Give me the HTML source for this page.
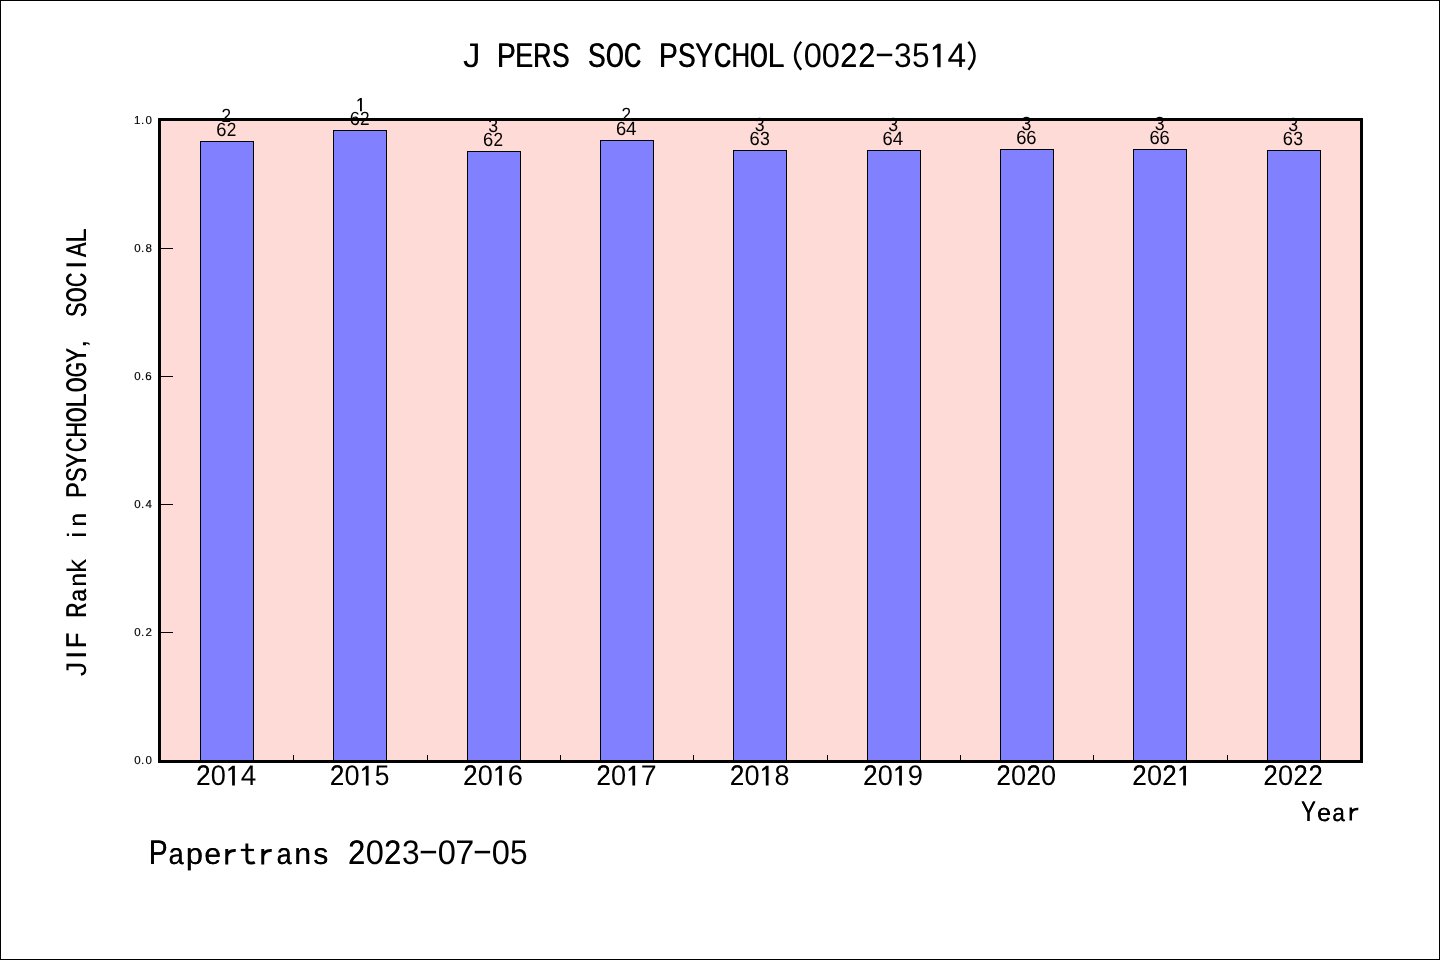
<!DOCTYPE html>
<html><head><meta charset="utf-8"><title>J PERS SOC PSYCHOL</title>
<style>
html,body{margin:0;padding:0;background:#fff;}
body{width:1440px;height:960px;overflow:hidden;font-family:"Liberation Sans",sans-serif;}
svg{display:block;will-change:transform;}
svg text{font-family:"Liberation Sans",sans-serif;fill:#000;text-rendering:geometricPrecision;}
</style></head><body>
<svg width="1440" height="960" viewBox="0 0 1440 960">
<rect x="0" y="0" width="1440" height="960" fill="#fff"/>
<rect x="0.5" y="0.5" width="1439" height="959" fill="none" stroke="#000" stroke-width="1"/>
<rect x="158" y="118" width="1205" height="645" fill="#FEDBD7"/>
<rect x="200.5" y="141.5" width="53" height="619" fill="#8180FF" stroke="#000" stroke-width="1"/>
<rect x="333.5" y="130.5" width="53" height="630" fill="#8180FF" stroke="#000" stroke-width="1"/>
<rect x="467.5" y="151.5" width="53" height="609" fill="#8180FF" stroke="#000" stroke-width="1"/>
<rect x="600.5" y="140.5" width="53" height="620" fill="#8180FF" stroke="#000" stroke-width="1"/>
<rect x="733.5" y="150.5" width="53" height="610" fill="#8180FF" stroke="#000" stroke-width="1"/>
<rect x="867.5" y="150.5" width="53" height="610" fill="#8180FF" stroke="#000" stroke-width="1"/>
<rect x="1000.5" y="149.5" width="53" height="611" fill="#8180FF" stroke="#000" stroke-width="1"/>
<rect x="1133.5" y="149.5" width="53" height="611" fill="#8180FF" stroke="#000" stroke-width="1"/>
<rect x="1267.5" y="150.5" width="53" height="610" fill="#8180FF" stroke="#000" stroke-width="1"/>
<rect x="293" y="755" width="1" height="5"/>
<rect x="427" y="755" width="1" height="5"/>
<rect x="560" y="755" width="1" height="5"/>
<rect x="693" y="755" width="1" height="5"/>
<rect x="827" y="755" width="1" height="5"/>
<rect x="960" y="755" width="1" height="5"/>
<rect x="1093" y="755" width="1" height="5"/>
<rect x="1227" y="755" width="1" height="5"/>
<rect x="161" y="632" width="12" height="1"/>
<rect x="161" y="504" width="12" height="1"/>
<rect x="161" y="376" width="12" height="1"/>
<rect x="161" y="248" width="12" height="1"/>
<rect x="159.5" y="119.5" width="1202" height="642" fill="none" stroke="#000" stroke-width="3"/>
<g aria-label="0.0"><text x="134.20" y="764.10" font-size="11.5" stroke="#000" stroke-width=".15">0</text><text x="141.00" y="764.10" font-size="11.5" stroke="#000" stroke-width=".15">.</text><text x="145.40" y="764.10" font-size="11.5" stroke="#000" stroke-width=".15">0</text></g>
<g aria-label="0.2"><text x="134.20" y="636.10" font-size="11.5" stroke="#000" stroke-width=".15">0</text><text x="141.00" y="636.10" font-size="11.5" stroke="#000" stroke-width=".15">.</text><text x="145.40" y="636.10" font-size="11.5" stroke="#000" stroke-width=".15">2</text></g>
<g aria-label="0.4"><text x="134.20" y="508.10" font-size="11.5" stroke="#000" stroke-width=".15">0</text><text x="141.00" y="508.10" font-size="11.5" stroke="#000" stroke-width=".15">.</text><text x="145.44" y="508.10" font-size="11.5" stroke="#000" stroke-width=".15">4</text></g>
<g aria-label="0.6"><text x="134.20" y="380.10" font-size="11.5" stroke="#000" stroke-width=".15">0</text><text x="141.00" y="380.10" font-size="11.5" stroke="#000" stroke-width=".15">.</text><text x="145.36" y="380.10" font-size="11.5" stroke="#000" stroke-width=".15">6</text></g>
<g aria-label="0.8"><text x="134.20" y="252.10" font-size="11.5" stroke="#000" stroke-width=".15">0</text><text x="141.00" y="252.10" font-size="11.5" stroke="#000" stroke-width=".15">.</text><text x="145.40" y="252.10" font-size="11.5" stroke="#000" stroke-width=".15">8</text></g>
<g aria-label="1.0"><text x="134.04" y="124.10" font-size="11.5" stroke="#000" stroke-width=".15">1</text><text x="141.00" y="124.10" font-size="11.5" stroke="#000" stroke-width=".15">.</text><text x="145.40" y="124.10" font-size="11.5" stroke="#000" stroke-width=".15">0</text></g>
<g aria-label="62">
<text transform="translate(216.30,136.20) scale(0.9591,1.0)" font-size="19.17">6</text>
<text transform="translate(226.78,136.20) scale(0.8998,1.0)" font-size="19.17">2</text>
</g>
<g aria-label="2">
<text transform="translate(221.57,122.20) scale(0.8998,1.0)" font-size="19.17">2</text>
</g>
<g aria-label="2014">
<text id="g1" transform="translate(196.18,785.40) scale(0.8998,1.0)" font-size="28.47">2</text><use href="#g1" x="0.13"/>
<text transform="translate(210.81,785.40) scale(0.9545,1.0)" font-size="28.47">0</text>
<path d="M232.11 785.40 L234.87 785.40 L234.87 765.81 L232.41 765.81 L228.42 768.92 L228.42 771.30 L232.11 768.94 Z"/>
<text x="233.4" y="785.4" font-size="28.5" text-anchor="middle" fill="none" style="fill:none">1</text>
<text transform="translate(240.69,785.40) scale(0.9807,1.0)" font-size="28.47">4</text>
</g>
<g aria-label="62">
<text transform="translate(349.63,125.20) scale(0.9591,1.0)" font-size="19.17">6</text>
<text transform="translate(360.11,125.20) scale(0.8998,1.0)" font-size="19.17">2</text>
</g>
<g aria-label="1">
<path d="M360.01 111.20 L361.87 111.20 L361.87 98.01 L360.22 98.01 L357.53 100.11 L357.53 101.71 L360.01 100.12 Z"/>
<text x="360.9" y="111.2" font-size="19.2" text-anchor="middle" fill="none" style="fill:none">1</text>
</g>
<g aria-label="2015">
<text id="g2" transform="translate(329.90,785.40) scale(0.8998,1.0)" font-size="28.47">2</text><use href="#g2" x="0.13"/>
<text transform="translate(344.53,785.40) scale(0.9545,1.0)" font-size="28.47">0</text>
<path d="M365.83 785.40 L368.59 785.40 L368.59 765.81 L366.13 765.81 L362.14 768.92 L362.14 771.30 L365.83 768.94 Z"/>
<text x="367.1" y="785.4" font-size="28.5" text-anchor="middle" fill="none" style="fill:none">1</text>
<text transform="translate(374.78,785.40) scale(0.9268,1.0)" font-size="28.47">5</text>
</g>
<g aria-label="62">
<text transform="translate(482.96,146.20) scale(0.9591,1.0)" font-size="19.17">6</text>
<text transform="translate(493.44,146.20) scale(0.8998,1.0)" font-size="19.17">2</text>
</g>
<g aria-label="3">
<text transform="translate(488.14,132.20) scale(0.9268,1.0)" font-size="19.17">3</text>
</g>
<g aria-label="2016">
<text id="g3" transform="translate(463.21,785.40) scale(0.8998,1.0)" font-size="28.47">2</text><use href="#g3" x="0.13"/>
<text transform="translate(477.84,785.40) scale(0.9545,1.0)" font-size="28.47">0</text>
<path d="M499.14 785.40 L501.90 785.40 L501.90 765.81 L499.44 765.81 L495.45 768.92 L495.45 771.30 L499.14 768.94 Z"/>
<text x="500.4" y="785.4" font-size="28.5" text-anchor="middle" fill="none" style="fill:none">1</text>
<text transform="translate(507.71,785.40) scale(0.9591,1.0)" font-size="28.47">6</text>
</g>
<g aria-label="64">
<text transform="translate(615.89,135.20) scale(0.9591,1.0)" font-size="19.17">6</text>
<text transform="translate(626.00,135.20) scale(0.9807,1.0)" font-size="19.17">4</text>
</g>
<g aria-label="2">
<text transform="translate(621.57,121.20) scale(0.8998,1.0)" font-size="19.17">2</text>
</g>
<g aria-label="2017">
<text id="g4" transform="translate(596.45,785.40) scale(0.8998,1.0)" font-size="28.47">2</text><use href="#g4" x="0.13"/>
<text transform="translate(611.08,785.40) scale(0.9545,1.0)" font-size="28.47">0</text>
<path d="M632.38 785.40 L635.14 785.40 L635.14 765.81 L632.68 765.81 L628.69 768.92 L628.69 771.30 L632.38 768.94 Z"/>
<text x="633.6" y="785.4" font-size="28.5" text-anchor="middle" fill="none" style="fill:none">1</text>
<text transform="translate(640.68,785.40) scale(1.0037,1.0)" font-size="28.47">7</text>
</g>
<g aria-label="63">
<text transform="translate(749.49,145.20) scale(0.9591,1.0)" font-size="19.17">6</text>
<text transform="translate(759.88,145.20) scale(0.9268,1.0)" font-size="19.17">3</text>
</g>
<g aria-label="3">
<text transform="translate(754.81,131.20) scale(0.9268,1.0)" font-size="19.17">3</text>
</g>
<g aria-label="2018">
<text id="g5" transform="translate(729.88,785.40) scale(0.8998,1.0)" font-size="28.47">2</text><use href="#g5" x="0.13"/>
<text transform="translate(744.51,785.40) scale(0.9545,1.0)" font-size="28.47">0</text>
<path d="M765.81 785.40 L768.57 785.40 L768.57 765.81 L766.11 765.81 L762.12 768.92 L762.12 771.30 L765.81 768.94 Z"/>
<text x="767.1" y="785.4" font-size="28.5" text-anchor="middle" fill="none" style="fill:none">1</text>
<text transform="translate(774.60,785.40) scale(0.9432,1.0)" font-size="28.47">8</text>
</g>
<g aria-label="64">
<text transform="translate(882.56,145.20) scale(0.9591,1.0)" font-size="19.17">6</text>
<text transform="translate(892.67,145.20) scale(0.9807,1.0)" font-size="19.17">4</text>
</g>
<g aria-label="3">
<text transform="translate(888.14,131.20) scale(0.9268,1.0)" font-size="19.17">3</text>
</g>
<g aria-label="2019">
<text id="g6" transform="translate(863.21,785.40) scale(0.8998,1.0)" font-size="28.47">2</text><use href="#g6" x="0.13"/>
<text transform="translate(877.84,785.40) scale(0.9545,1.0)" font-size="28.47">0</text>
<path d="M899.14 785.40 L901.90 785.40 L901.90 765.81 L899.44 765.81 L895.45 768.92 L895.45 771.30 L899.14 768.94 Z"/>
<text x="900.4" y="785.4" font-size="28.5" text-anchor="middle" fill="none" style="fill:none">1</text>
<text transform="translate(907.82,785.40) scale(0.9581,1.0)" font-size="28.47">9</text>
</g>
<g aria-label="66">
<text transform="translate(1016.14,144.20) scale(0.9591,1.0)" font-size="19.17">6</text>
<text transform="translate(1026.24,144.20) scale(0.9591,1.0)" font-size="19.17">6</text>
</g>
<g aria-label="3">
<text transform="translate(1021.48,130.20) scale(0.9268,1.0)" font-size="19.17">3</text>
</g>
<g aria-label="2020">
<text id="g7" transform="translate(996.45,785.40) scale(0.8998,1.0)" font-size="28.47">2</text><use href="#g7" x="0.13"/>
<text transform="translate(1011.08,785.40) scale(0.9545,1.0)" font-size="28.47">0</text>
<text id="g8" transform="translate(1026.45,785.40) scale(0.8998,1.0)" font-size="28.47">2</text><use href="#g8" x="0.13"/>
<text transform="translate(1041.08,785.40) scale(0.9545,1.0)" font-size="28.47">0</text>
</g>
<g aria-label="66">
<text transform="translate(1149.47,144.20) scale(0.9591,1.0)" font-size="19.17">6</text>
<text transform="translate(1159.57,144.20) scale(0.9591,1.0)" font-size="19.17">6</text>
</g>
<g aria-label="3">
<text transform="translate(1154.81,130.20) scale(0.9268,1.0)" font-size="19.17">3</text>
</g>
<g aria-label="2021">
<text id="g9" transform="translate(1132.28,785.40) scale(0.8998,1.0)" font-size="28.47">2</text><use href="#g9" x="0.13"/>
<text transform="translate(1146.91,785.40) scale(0.9545,1.0)" font-size="28.47">0</text>
<text id="g10" transform="translate(1162.28,785.40) scale(0.8998,1.0)" font-size="28.47">2</text><use href="#g10" x="0.13"/>
<path d="M1183.21 785.40 L1185.97 785.40 L1185.97 765.81 L1183.51 765.81 L1179.52 768.92 L1179.52 771.30 L1183.21 768.94 Z"/>
<text x="1184.5" y="785.4" font-size="28.5" text-anchor="middle" fill="none" style="fill:none">1</text>
</g>
<g aria-label="63">
<text transform="translate(1282.82,145.20) scale(0.9591,1.0)" font-size="19.17">6</text>
<text transform="translate(1293.21,145.20) scale(0.9268,1.0)" font-size="19.17">3</text>
</g>
<g aria-label="3">
<text transform="translate(1288.14,131.20) scale(0.9268,1.0)" font-size="19.17">3</text>
</g>
<g aria-label="2022">
<text id="g11" transform="translate(1263.44,785.40) scale(0.8998,1.0)" font-size="28.47">2</text><use href="#g11" x="0.13"/>
<text transform="translate(1278.08,785.40) scale(0.9545,1.0)" font-size="28.47">0</text>
<text id="g12" transform="translate(1293.44,785.40) scale(0.8998,1.0)" font-size="28.47">2</text><use href="#g12" x="0.13"/>
<text id="g13" transform="translate(1308.44,785.40) scale(0.8998,1.0)" font-size="28.47">2</text><use href="#g13" x="0.13"/>
</g>
<g aria-label="J PERS SOC PSYCHOL(0022-3514)">
<text transform="translate(463.05,67.25) scale(1.0276,1.0)" font-size="34.16">J</text>
<text x="488.8" y="67.2" font-size="34.2" xml:space="preserve"> </text>
<text id="g14" transform="translate(496.78,67.25) scale(0.8256,1.0)" font-size="34.16">P</text><use href="#g14" x="0.39"/>
<text id="g15" transform="translate(515.03,67.25) scale(0.7893,1.0)" font-size="34.16">E</text><use href="#g15" x="0.51"/>
<text id="g16" transform="translate(533.03,67.25) scale(0.7276,1.0)" font-size="34.16">R</text><use href="#g16" x="0.71"/>
<text id="g17" transform="translate(551.81,67.25) scale(0.7633,1.0)" font-size="34.16">S</text><use href="#g17" x="0.59"/>
<text x="578.8" y="67.2" font-size="34.2" xml:space="preserve"> </text>
<text id="g18" transform="translate(587.81,67.25) scale(0.7633,1.0)" font-size="34.16">S</text><use href="#g18" x="0.59"/>
<text id="g19" transform="translate(605.68,67.25) scale(0.6514,1.0)" font-size="34.16">O</text><use href="#g19" x="0.95"/>
<text id="g20" transform="translate(623.79,67.25) scale(0.6839,1.0)" font-size="34.16">C</text><use href="#g20" x="0.85"/>
<text x="650.8" y="67.2" font-size="34.2" xml:space="preserve"> </text>
<text id="g21" transform="translate(658.78,67.25) scale(0.8256,1.0)" font-size="34.16">P</text><use href="#g21" x="0.39"/>
<text id="g22" transform="translate(677.81,67.25) scale(0.7633,1.0)" font-size="34.16">S</text><use href="#g22" x="0.59"/>
<text id="g23" transform="translate(694.94,67.25) scale(0.7780,1.0)" font-size="34.16">Y</text><use href="#g23" x="0.55"/>
<text id="g24" transform="translate(713.79,67.25) scale(0.6839,1.0)" font-size="34.16">C</text><use href="#g24" x="0.85"/>
<text id="g25" transform="translate(731.18,67.25) scale(0.7546,1.0)" font-size="34.16">H</text><use href="#g25" x="0.62"/>
<text id="g26" transform="translate(749.68,67.25) scale(0.6514,1.0)" font-size="34.16">O</text><use href="#g26" x="0.95"/>
<text id="g27" transform="translate(767.52,67.25) scale(0.8890,1.0)" font-size="34.16">L</text><use href="#g27" x="0.19"/>
<path d="M801.21 41.69 Q788.97 55.73 801.21 69.77" fill="none" stroke="#000" stroke-width="2.45"/>
<text x="794.8" y="67.2" font-size="34.2" text-anchor="middle" fill="none" style="fill:none">(</text>
<text transform="translate(803.73,67.25) scale(0.9545,1.0)" font-size="34.16">0</text>
<text transform="translate(821.73,67.25) scale(0.9545,1.0)" font-size="34.16">0</text>
<text id="g28" transform="translate(840.17,67.25) scale(0.8998,1.0)" font-size="34.16">2</text><use href="#g28" x="0.16"/>
<text id="g29" transform="translate(858.17,67.25) scale(0.8998,1.0)" font-size="34.16">2</text><use href="#g29" x="0.16"/>
<rect x="876.80" y="53.68" width="15.41" height="2.52"/>
<text x="884.8" y="67.2" font-size="34.2" text-anchor="middle" fill="none" style="fill:none">-</text>
<text transform="translate(894.09,67.25) scale(0.9268,1.0)" font-size="34.16">3</text>
<text transform="translate(912.03,67.25) scale(0.9268,1.0)" font-size="34.16">5</text>
<path d="M937.29 67.25 L940.60 67.25 L940.60 43.74 L937.65 43.74 L932.86 47.48 L932.86 50.33 L937.29 47.50 Z"/>
<text x="938.8" y="67.2" font-size="34.2" text-anchor="middle" fill="none" style="fill:none">1</text>
<text transform="translate(947.59,67.25) scale(0.9807,1.0)" font-size="34.16">4</text>
<path d="M968.39 41.69 Q980.63 55.73 968.39 69.77" fill="none" stroke="#000" stroke-width="2.45"/>
<text x="974.8" y="67.2" font-size="34.2" text-anchor="middle" fill="none" style="fill:none">)</text>
</g>
<g aria-label="Year">
<text id="g30" transform="translate(1300.89,820.50) scale(0.7780,1.0)" font-size="28.47">Y</text><use href="#g30" x="0.45"/>
<text id="g31" transform="translate(1317.10,820.50) scale(0.8758,0.872)" font-size="28.47">e</text><use href="#g31" x="0.18"/>
<text id="g32" transform="translate(1332.17,820.50) scale(0.7898,0.872)" font-size="28.47">a</text><use href="#g32" x="0.39"/>
<path d="M1350.80 820.50 L1350.80 807.60 M1350.80 814.20 C1351.40 810.60 1354.10 808.65 1358.30 808.95" fill="none" stroke="#000" stroke-width="2.46"/>
<text x="1354.1" y="820.5" font-size="28.5" text-anchor="middle" fill="none" style="fill:none">r</text>
</g>
<g aria-label="Papertrans 2023-07-05">
<text id="g33" transform="translate(148.68,864.40) scale(0.8256,1.0)" font-size="34.16">P</text><use href="#g33" x="0.39"/>
<text id="g34" transform="translate(168.39,864.40) scale(0.7898,0.872)" font-size="34.16">a</text><use href="#g34" x="0.47"/>
<text id="g35" transform="translate(185.77,864.40) scale(0.8951,0.872)" font-size="34.16">p</text><use href="#g35" x="0.16"/>
<text id="g36" transform="translate(204.30,864.40) scale(0.8758,0.872)" font-size="34.16">e</text><use href="#g36" x="0.21"/>
<path d="M226.74 864.40 L226.74 848.92 M226.74 856.84 C227.46 852.52 230.70 850.18 235.74 850.54" fill="none" stroke="#000" stroke-width="2.95"/>
<text x="230.7" y="864.4" font-size="34.2" text-anchor="middle" fill="none" style="fill:none">r</text>
<path d="M246.86 843.52 L246.86 859.00 Q246.86 863.07 251.22 863.07 Q253.38 863.07 254.82 862.24" fill="none" stroke="#000" stroke-width="2.88"/><path d="M240.78 850.00 L253.99 850.00" fill="none" stroke="#000" stroke-width="2.23"/>
<text x="248.7" y="864.4" font-size="34.2" text-anchor="middle" fill="none" style="fill:none">t</text>
<path d="M262.74 864.40 L262.74 848.92 M262.74 856.84 C263.46 852.52 266.70 850.18 271.74 850.54" fill="none" stroke="#000" stroke-width="2.95"/>
<text x="266.7" y="864.4" font-size="34.2" text-anchor="middle" fill="none" style="fill:none">r</text>
<text id="g37" transform="translate(276.39,864.40) scale(0.7898,0.872)" font-size="34.16">a</text><use href="#g37" x="0.47"/>
<text id="g38" transform="translate(294.21,864.40) scale(0.8806,0.872)" font-size="34.16">n</text><use href="#g38" x="0.20"/>
<text id="g39" transform="translate(313.26,864.40) scale(0.8724,0.872)" font-size="34.16">s</text><use href="#g39" x="0.22"/>
<text x="338.7" y="864.4" font-size="34.2" xml:space="preserve"> </text>
<text id="g40" transform="translate(348.07,864.40) scale(0.8998,1.0)" font-size="34.16">2</text><use href="#g40" x="0.16"/>
<text transform="translate(365.63,864.40) scale(0.9545,1.0)" font-size="34.16">0</text>
<text id="g41" transform="translate(384.07,864.40) scale(0.8998,1.0)" font-size="34.16">2</text><use href="#g41" x="0.16"/>
<text transform="translate(401.99,864.40) scale(0.9268,1.0)" font-size="34.16">3</text>
<rect x="420.70" y="850.83" width="15.41" height="2.52"/>
<text x="428.7" y="864.4" font-size="34.2" text-anchor="middle" fill="none" style="fill:none">-</text>
<text transform="translate(437.63,864.40) scale(0.9545,1.0)" font-size="34.16">0</text>
<text transform="translate(455.15,864.40) scale(1.0037,1.0)" font-size="34.16">7</text>
<rect x="474.70" y="850.83" width="15.41" height="2.52"/>
<text x="482.7" y="864.4" font-size="34.2" text-anchor="middle" fill="none" style="fill:none">-</text>
<text transform="translate(491.63,864.40) scale(0.9545,1.0)" font-size="34.16">0</text>
<text transform="translate(509.93,864.40) scale(0.9268,1.0)" font-size="34.16">5</text>
</g>
<g transform="translate(85.8,677.3) rotate(-90)"><g aria-label="JIF Rank in PSYCHOLOGY, SOCIAL">
<text transform="translate(1.04,0.00) scale(1.0276,1.0)" font-size="28.47">J</text>
<text transform="translate(18.03,0.00) scale(1.1299,1.0)" font-size="28.47">I</text>
<text id="g42" transform="translate(29.11,0.00) scale(0.8947,1.0)" font-size="28.47">F</text><use href="#g42" x="0.14"/>
<text x="52.5" y="0.0" font-size="28.5" xml:space="preserve"> </text>
<text id="g43" transform="translate(59.36,0.00) scale(0.7276,1.0)" font-size="28.47">R</text><use href="#g43" x="0.59"/>
<text id="g44" transform="translate(75.57,0.00) scale(0.7898,0.872)" font-size="28.47">a</text><use href="#g44" x="0.39"/>
<text id="g45" transform="translate(90.43,0.00) scale(0.8806,0.872)" font-size="28.47">n</text><use href="#g45" x="0.17"/>
<text transform="translate(104.64,0.00) scale(0.9710,0.95)" font-size="28.47">k</text>
<text x="127.5" y="0.0" font-size="28.5" xml:space="preserve"> </text>
<text transform="translate(139.28,0.00) scale(1.0191,0.93)" font-size="28.47">i</text>
<text id="g46" transform="translate(150.43,0.00) scale(0.8806,0.872)" font-size="28.47">n</text><use href="#g46" x="0.17"/>
<text x="172.5" y="0.0" font-size="28.5" xml:space="preserve"> </text>
<text id="g47" transform="translate(179.15,0.00) scale(0.8256,1.0)" font-size="28.47">P</text><use href="#g47" x="0.33"/>
<text id="g48" transform="translate(195.01,0.00) scale(0.7633,1.0)" font-size="28.47">S</text><use href="#g48" x="0.49"/>
<text id="g49" transform="translate(209.29,0.00) scale(0.7780,1.0)" font-size="28.47">Y</text><use href="#g49" x="0.45"/>
<text id="g50" transform="translate(224.99,0.00) scale(0.6839,1.0)" font-size="28.47">C</text><use href="#g50" x="0.70"/>
<text id="g51" transform="translate(239.48,0.00) scale(0.7546,1.0)" font-size="28.47">H</text><use href="#g51" x="0.52"/>
<text id="g52" transform="translate(254.90,0.00) scale(0.6514,1.0)" font-size="28.47">O</text><use href="#g52" x="0.79"/>
<text id="g53" transform="translate(269.76,0.00) scale(0.8890,1.0)" font-size="28.47">L</text><use href="#g53" x="0.16"/>
<text id="g54" transform="translate(284.90,0.00) scale(0.6514,1.0)" font-size="28.47">O</text><use href="#g54" x="0.79"/>
<text id="g55" transform="translate(299.87,0.00) scale(0.6779,1.0)" font-size="28.47">G</text><use href="#g55" x="0.72"/>
<text id="g56" transform="translate(314.29,0.00) scale(0.7780,1.0)" font-size="28.47">Y</text><use href="#g56" x="0.45"/>
<text transform="translate(329.35,0.00) scale(1.0737,1.0)" font-size="28.47">,</text>
<text x="352.5" y="0.0" font-size="28.5" xml:space="preserve"> </text>
<text id="g57" transform="translate(360.01,0.00) scale(0.7633,1.0)" font-size="28.47">S</text><use href="#g57" x="0.49"/>
<text id="g58" transform="translate(374.90,0.00) scale(0.6514,1.0)" font-size="28.47">O</text><use href="#g58" x="0.79"/>
<text id="g59" transform="translate(389.99,0.00) scale(0.6839,1.0)" font-size="28.47">C</text><use href="#g59" x="0.70"/>
<text transform="translate(408.03,0.00) scale(1.1299,1.0)" font-size="28.47">I</text>
<text id="g60" transform="translate(420.01,0.00) scale(0.7628,1.0)" font-size="28.47">A</text><use href="#g60" x="0.49"/>
<text id="g61" transform="translate(434.76,0.00) scale(0.8890,1.0)" font-size="28.47">L</text><use href="#g61" x="0.16"/>
</g></g>
</svg>
</body></html>
